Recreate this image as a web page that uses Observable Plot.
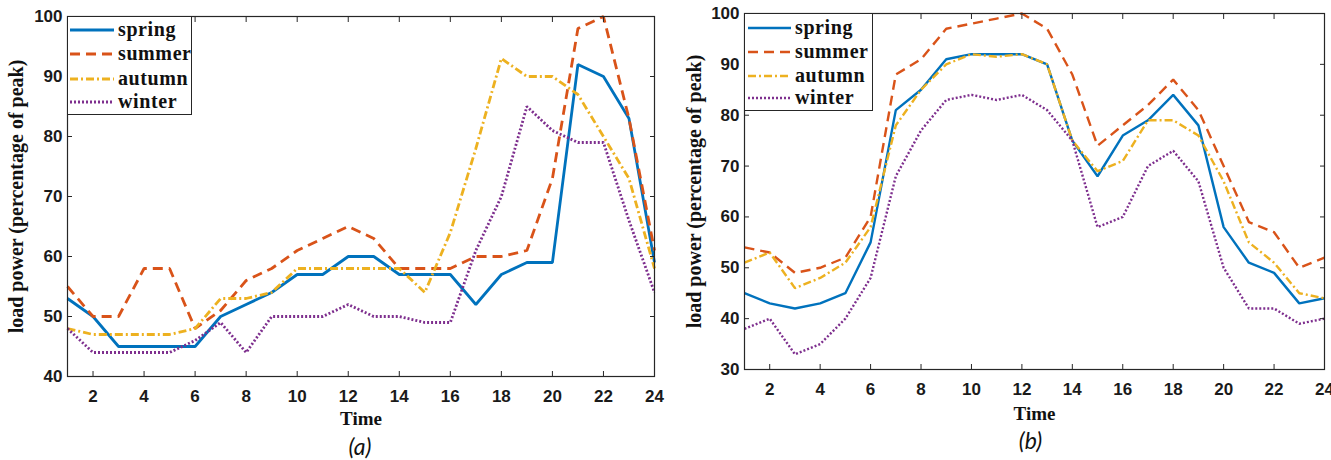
<!DOCTYPE html>
<html><head><meta charset="utf-8">
<script src="https://cdn.jsdelivr.net/npm/d3@7"></script>
<script src="https://cdn.jsdelivr.net/npm/@observablehq/plot@0.6"></script>
<style>
body{margin:0;background:#fff;}
#wrap{position:relative;width:1331px;height:460px;overflow:hidden;background:#fff;}
#wrap > svg{position:absolute;top:0;}
.legend{position:absolute;background:#fff;border:1px solid #262626;box-sizing:border-box;}
.legend svg{display:block;}
</style></head><body><div id="wrap"></div>
<script>
// ---- data ----
const hours = [1,2,3,4,5,6,7,8,9,10,11,12,13,14,15,16,17,18,19,20,21,22,23,24];
const xTicks = [2,4,6,8,10,12,14,16,18,20,22,24];
const seasons = ["spring","summer","autumn","winter"];

const springA = [53,50,45,45,45,45,50,52,54,57,57,60,60,57,57,57,52,57,59,59,92,90,83,59];
const summerA = [55,50,50,58,58,48,51,56,58,61,63,65,63,58,58,58,60,60,61,73,98,100,83,61];
const autumnA = [48,47,47,47,47,48,53,53,54,58,58,58,58,58,54,64,78,93,90,90,87,80,73,58];
const winterA = [48,44,44,44,44,46,49,44,50,50,50,52,50,50,49,49,61,70,85,81,79,79,66,54];
const yTicksA = [40,50,60,70,80,90,100];

const springB = [45,43,42,43,45,55,81,85,91,92,92,92,90,75,68,76,79,84,78,58,51,49,43,44];
const summerB = [54,53,49,50,52,60,88,91,97,98,99,100,97,88,74,78,82,87,81,70,59,57,50,52];
const autumnB = [51,53,46,48,51,58,78,85,90,92,91.5,92,90,75,69,71,79,79,76,67,55,51,45,44];
const winterB = [38,40,33,35,40,48,68,77,83,84,83,84,81,75,58,60,70,73,67,50,42,42,39,40];
const yTicksB = [30,40,50,60,70,80,90,100];

// ---- styles ----
const colors = {spring:"#0072BD", summer:"#D95319", autumn:"#EDB120", winter:"#7E2F8E"};
const dashes = {spring:null, summer:"10,6", autumn:"8,3,2,3", winter:"2,2"};
const axisColor = "#262626";

function panel({values, yDomain, yTicks, width, height, mL, mR, mT, mB, lw, caption, capDx, timeDy, capDy, yTitleDx}) {
  const lines = seasons.map((s, k) => Plot.line(hours, {
    x: hours, y: values[k], stroke: colors[s], strokeWidth: lw,
    strokeDasharray: dashes[s], strokeLinejoin: "miter", strokeLinecap: "butt"
  }));
  return Plot.plot({
    width, height, marginLeft: mL, marginRight: mR, marginTop: mT, marginBottom: mB,
    x: {domain: [1, 24]},
    y: {domain: yDomain},
    style: "font-family:'Liberation Sans',Arial,sans-serif;font-size:17px;font-weight:bold;color:#1a1a1a;background:transparent;overflow:visible;",
    marks: [
      ...lines,
      Plot.frame({stroke: axisColor, strokeWidth: 1.2}),
      Plot.axisY(yTicks, {anchor: "left", tickSize: 0, tickPadding: 5, label: null}),
      Plot.axisY(yTicks, {anchor: "left", fill: "none", tickSize: 5, dx: 5, label: null, stroke: axisColor}),
      Plot.axisY(yTicks, {anchor: "right", fill: "none", tickSize: 5, dx: -5, label: null, stroke: axisColor}),
      Plot.axisX(xTicks, {anchor: "bottom", tickSize: 0, tickPadding: 13, label: null}),
      Plot.axisX(xTicks, {anchor: "bottom", fill: "none", tickSize: 5, dy: -5, label: null, stroke: axisColor}),
      Plot.axisX(xTicks, {anchor: "top", fill: "none", tickSize: 5, dy: 5, label: null, stroke: axisColor}),
      Plot.text(["load power (percentage of peak)"], {text: d => d, frameAnchor: "left", dx: yTitleDx, rotate: -90,
        textAnchor: "middle", lineAnchor: "middle",
        fontFamily: "'Liberation Serif','Times New Roman',serif", fontSize: 20, fontWeight: "bold", fill: "#111"}),
      Plot.text(["Time"], {text: d => d, frameAnchor: "bottom", dy: timeDy, lineAnchor: "middle",
        fontFamily: "'Liberation Serif','Times New Roman',serif", fontSize: 19, fontWeight: "bold", fill: "#111"}),
      Plot.text([caption], {text: d => d, frameAnchor: "bottom", dy: capDy, dx: capDx, lineAnchor: "middle",
        fontFamily: "Lato, 'Open Sans', sans-serif", fontSize: 23, fontStyle: "italic", fontWeight: "normal", fill: "#111"})
    ]
  });
}

function legend({left, top, w, h, rowY, x1, x2, tx, lw}) {
  const div = d3.create("div").attr("class", "legend")
    .style("left", left + "px").style("top", top + "px")
    .style("width", w + "px").style("height", h + "px");
  const svg = div.append("svg").attr("width", w - 2).attr("height", h - 2);
  seasons.forEach((s, i) => {
    svg.append("line").attr("x1", x1).attr("x2", x2).attr("y1", rowY[i]).attr("y2", rowY[i])
      .attr("stroke", colors[s]).attr("stroke-width", lw)
      .attr("stroke-dasharray", dashes[s]);
    svg.append("text").attr("x", tx).attr("y", rowY[i]).attr("dy", "0.32em")
      .attr("font-family", "'Liberation Serif','Times New Roman',serif")
      .attr("font-size", 20).attr("font-weight", "bold").attr("letter-spacing", "0.6px")
      .attr("fill", "#111").text(s);
  });
  return div.node();
}

const wrap = document.getElementById("wrap");
const a = panel({values: [springA, summerA, autumnA, winterA], yDomain: [40, 100], yTicks: yTicksA,
  width: 665, height: 460, mL: 67, mR: 11, mT: 16, mB: 84, lw: 2.8,
  caption: "(a)", capDx: -1, timeDy: 42, capDy: 71, yTitleDx: -51});
a.style.left = "0px";
wrap.appendChild(a);
const b = panel({values: [springB, summerB, autumnB, winterB], yDomain: [30, 100], yTicks: yTicksB,
  width: 666, height: 460, mL: 79, mR: 7, mT: 13, mB: 91, lw: 2.4,
  caption: "(b)", capDx: -4, timeDy: 44, capDy: 72, yTitleDx: -50});
b.style.left = "665px";
wrap.appendChild(b);

wrap.appendChild(legend({left: 67, top: 16, w: 125, h: 99, rowY: [13, 37, 62, 85], x1: 2, x2: 46, tx: 50, lw: 2.8}));
wrap.appendChild(legend({left: 744, top: 13, w: 129, h: 98, rowY: [14, 38, 62, 84], x1: 3, x2: 46, tx: 50, lw: 2.4}));
</script></body></html>
